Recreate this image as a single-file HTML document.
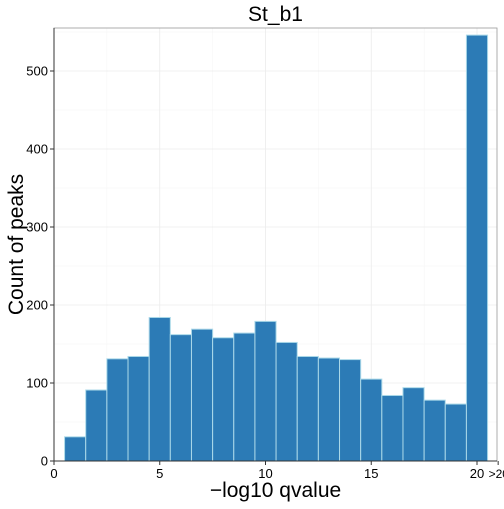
<!DOCTYPE html>
<html><head><meta charset="utf-8"><style>
body{margin:0;background:#fff}
svg{font-family:"Liberation Sans",sans-serif}
</style></head><body>
<svg id="c" width="504" height="504"></svg>
<script>
const categories=[1,2,3,4,5,6,7,8,9,10,11,12,13,14,15,16,17,18,19,20];
const counts=[31,91,131,134,184,162,169,158,164,179,152,134,132,130,105,84,94,78,73,546];
const xTicks=[0,5,10,15,20];
const xTickLabels=["0","5","10","15","20"];
const yTicks=[0,100,200,300,400,500];
const NS="http://www.w3.org/2000/svg";
const svg=document.getElementById('c');
const L=54,R=497,T=28,B=461;
const xs=v=>L+v*21.15;
const ys=v=>B-v*0.78;
function mk(t,a,p){const e=document.createElementNS(NS,t);for(const k in a)e.setAttribute(k,a[k]);(p||svg).appendChild(e);return e;}
for(let v=2.5;v<21;v+=5){const g=mk('line',{x1:xs(v),x2:xs(v),y1:T,y2:B,stroke:'#f4f4f4','stroke-width':0.5});

}
for(let v=50;v<=550;v+=100){const g=mk('line',{x1:L,x2:R,y1:ys(v),y2:ys(v),stroke:'#f4f4f4','stroke-width':0.5});

}
xTicks.forEach(v=>{const g=mk('line',{x1:xs(v),x2:xs(v),y1:T,y2:B,stroke:'#ebebeb','stroke-width':0.8});

});
yTicks.forEach(v=>{const g=mk('line',{x1:L,x2:R,y1:ys(v),y2:ys(v),stroke:'#ebebeb','stroke-width':0.8});

});
categories.forEach((c,i)=>{const r=mk('rect',{x:xs(c-0.5),y:ys(counts[i]),width:xs(c+0.5)-xs(c-0.5),height:ys(0)-ys(counts[i]),fill:'#2c7bb6',stroke:'#abd9e9','stroke-width':1});

});
const pb=mk('rect',{x:L,y:T,width:R-L,height:B-T,fill:'none',stroke:'#999','stroke-width':0.8});


const xa=mk('line',{x1:L,x2:R,y1:B,y2:B,stroke:'#333','stroke-width':1});


const ya=mk('line',{x1:L,x2:L,y1:T,y2:B,stroke:'#333','stroke-width':1});


xTicks.forEach((v,i)=>{mk('line',{x1:xs(v),x2:xs(v),y1:B,y2:B+4,stroke:'#333'});
const t=mk('text',{x:xs(v),y:B+17,'text-anchor':'middle','font-size':13,fill:'#000'});t.textContent=xTickLabels[i];

});
mk('line',{x1:xs(21),x2:xs(21),y1:B,y2:B+4,stroke:'#333'});
const gt=mk('text',{x:xs(20.5)+1,y:B+17,'font-size':12,fill:'#000'});gt.textContent='>20';


yTicks.forEach(v=>{mk('line',{x1:L-4,x2:L,y1:ys(v),y2:ys(v),stroke:'#333'});
const t=mk('text',{x:L-6,y:ys(v)+4.5,'text-anchor':'end','font-size':13,fill:'#000'});t.textContent=v;

});
const ti=mk('text',{x:(L+R)/2,y:21,'text-anchor':'middle','font-size':21});ti.textContent='St_b1';


const xt=mk('text',{x:(L+R)/2,y:497,'text-anchor':'middle','font-size':21});xt.textContent='\u2212log10 qvalue';


const yt=mk('text',{x:0,y:0,'text-anchor':'middle','font-size':21,transform:`translate(23,${(T+B)/2}) rotate(-90)`});yt.textContent='Count of peaks';


</script>
</body></html>
